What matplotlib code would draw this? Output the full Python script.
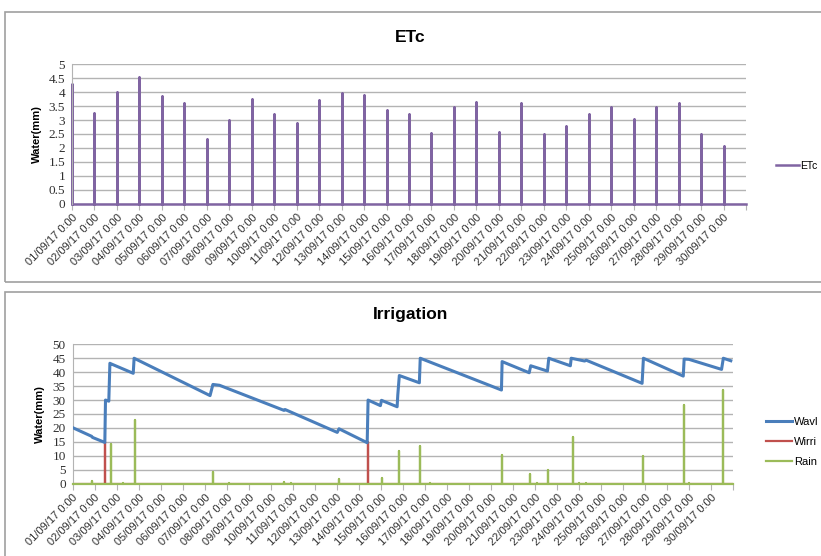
import matplotlib.pyplot as plt
from matplotlib.patches import Rectangle
from matplotlib.ticker import FuncFormatter

# ETc daily values (one spike per day, 01/09 .. 30/09)
etc_day = list(range(1, 31))
etc_val = [4.3, 3.25, 4.02, 4.55, 3.87, 3.62, 2.33, 3.0, 3.75, 3.22,
           2.9, 3.73, 3.98, 3.9, 3.37, 3.22, 2.53, 3.48, 3.65, 2.57,
           3.62, 2.5, 2.8, 3.21, 3.46, 3.04, 3.48, 3.6, 2.5, 2.08]

# available water (day position, mm)
wavl_day = [1.0, 1.86, 1.9, 2.46, 2.49, 2.64, 2.69, 2.74, 3.75, 3.79,
            7.24, 7.37, 7.67, 10.6, 10.65, 13.02, 13.1, 14.38, 14.42,
            14.98, 15.03, 15.74, 15.77, 15.84, 16.75, 16.79, 20.48, 20.51,
            21.74, 21.81, 22.57, 22.63, 23.61, 23.65, 24.26, 24.33, 26.87,
            26.93, 28.74, 28.78, 29.0, 30.48, 30.56, 30.9]
wavl_val = [20.1, 17.0, 16.6, 14.8, 30.0, 29.6, 43.2, 43.0, 39.6, 45.0,
            31.6, 35.6, 35.3, 26.3, 26.6, 18.4, 19.7, 14.7, 30.0,
            28.0, 29.9, 27.6, 31.8, 38.8, 36.2, 45.0, 33.6, 43.8,
            39.8, 42.3, 40.4, 45.0, 42.3, 45.0, 44.0, 44.3, 36.0,
            45.0, 38.6, 44.7, 44.6, 41.0, 45.0, 44.1]

# irrigation events
wirri_day = [2.47, 14.4]
wirri_val = [14.8, 14.8]

# rain events
rain_day = [1.86, 2.73, 3.3, 3.84, 7.39, 8.1, 10.6, 10.9, 13.1, 15.03,
            15.84, 16.8, 17.25, 20.5, 21.78, 22.1, 22.6, 23.72, 24.0, 24.3,
            26.9, 28.77, 29.0, 30.55]
rain_val = [0.8, 14.1, 0.3, 22.8, 4.3, 0.3, 0.6, 0.3, 1.6, 2.2,
            11.7, 13.6, 0.3, 10.2, 3.3, 0.3, 4.9, 16.9, 0.4, 0.4,
            9.9, 28.1, 0.3, 33.6]

day_start, day_end = 1, 31
tick_labels = [f"{d:02d}/09/17 0:00" for d in range(1, 31)]


def spikes(days, vals):
    # hourly-style series: zero everywhere except a spike at each event
    xs, ys = [day_start], [0]
    for d, v in zip(days, vals):
        xs += [d, d, d]
        ys += [0, v, 0]
    xs.append(day_end)
    ys.append(0)
    return xs, ys


purple = '#8064A2'
blue = '#4A7EBB'
red = '#C0504D'
green = '#9BBB59'
grid_c = '#B3B3B3'

fig = plt.figure(figsize=(8.21, 5.56), dpi=100)
W, H = 821, 556

# chart area frames
for y0, y1 in [(12, 282), (292, 600)]:
    fig.add_artist(Rectangle((5 / W, 1 - y1 / H), (W + 20) / W, (y1 - y0) / H,
                             transform=fig.transFigure, fill=False,
                             edgecolor='#A0A0A0', lw=1.2))


def style(ax, ymax, ystep, title, ttl_y):
    ax.set_xlim(day_start, day_end)
    ax.set_ylim(0, ymax)
    ax.set_yticks([i * ystep for i in range(int(round(ymax / ystep)) + 1)])
    ax.yaxis.set_major_formatter(FuncFormatter(lambda v, p: f"{v:g}"))
    ax.yaxis.grid(True, color=grid_c, lw=1)
    ax.set_axisbelow(True)
    for s in ['top', 'right', 'bottom']:
        ax.spines[s].set_visible(False)
    ax.spines['left'].set_color(grid_c)
    ax.tick_params(axis='y', length=0, pad=5, labelsize=9.5)
    for t in ax.get_yticklabels():
        t.set_family('Liberation Serif')
        t.set_color('#303030')
    ax.set_xticks(list(range(day_start, day_end + 1)))
    ax.set_xticklabels(tick_labels + [''], rotation=45, ha='right',
                       rotation_mode='anchor', fontsize=8,
                       family='Liberation Sans', color='#303030')
    ax.tick_params(axis='x', length=4, color=grid_c, pad=2)
    ax.set_ylabel('Water(mm)', fontsize=8, fontweight='bold',
                  family='Liberation Sans', labelpad=5)
    fig.text(0.5, 1 - ttl_y / H, title, ha='center', va='center',
             fontsize=12.5, fontweight='bold', family='Liberation Sans')


# ETc panel
ax1 = fig.add_axes([72 / W, 1 - 203.7 / H, (746 - 72) / W, 139.4 / H])
x, y = spikes(etc_day, etc_val)
ax1.plot(x, y, color=purple, lw=1.8, label='ETc', clip_on=False)
style(ax1, 5, 0.5, 'ETc', 37)
ax1.legend(loc='center left', bbox_to_anchor=(1.03, 0.27), frameon=False,
           handlelength=2.2, handletextpad=0.2,
           prop={'family': 'Liberation Sans', 'size': 7.5})

# Irrigation panel
ax2 = fig.add_axes([72.7 / W, 1 - 483.7 / H, (733 - 72.7) / W, 139.4 / H])
ax2.plot(wavl_day, wavl_val, color=blue, lw=2.2, label='Wavl', zorder=4)
x, y = spikes(wirri_day, wirri_val)
ax2.plot(x, y, color=red, lw=1.6, label='Wirri', zorder=2)
x, y = spikes(rain_day, rain_val)
ax2.plot(x, y, color=green, lw=1.6, label='Rain', zorder=3, clip_on=False)
style(ax2, 50, 5, 'Irrigation', 315)
ax2.legend(loc='center left', bbox_to_anchor=(1.035, 0.3), frameon=False,
           handlelength=2.3, handletextpad=0.2, labelspacing=0.9,
           prop={'family': 'Liberation Sans', 'size': 8})

fig.savefig('out.png', dpi=100)
